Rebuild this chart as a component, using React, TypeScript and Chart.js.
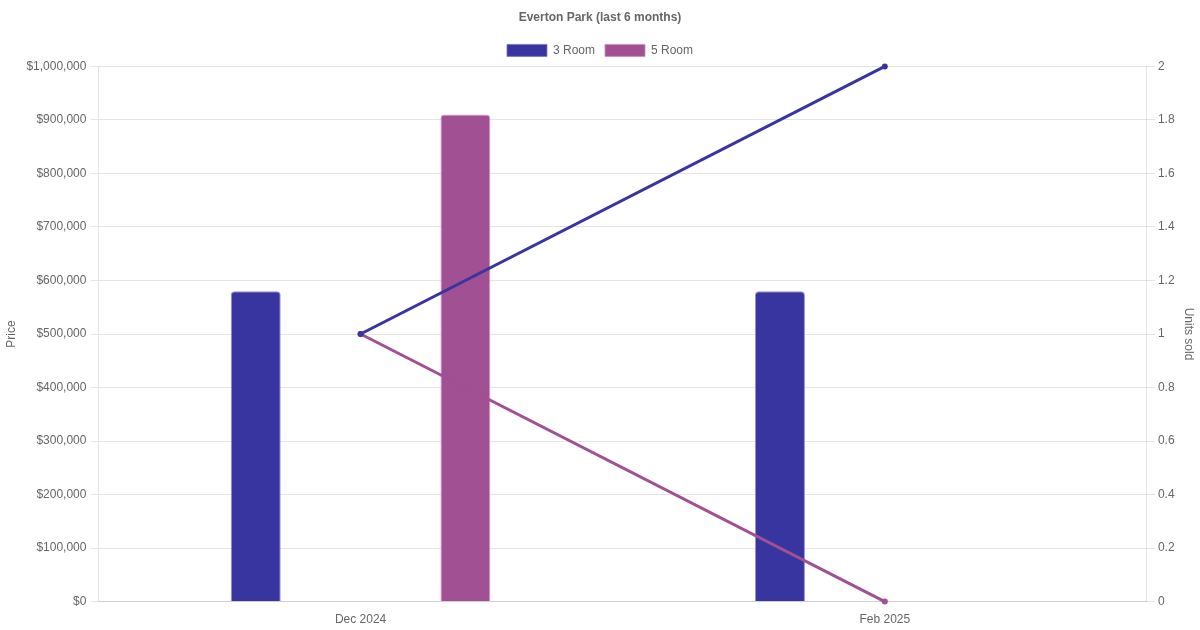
import React, { useEffect, useRef } from "react";
import { Chart, registerables } from "chart.js";

Chart.register(...registerables);

const categories = ["Dec 2024", "Feb 2025"];
const price3Room = [580000, 580000];
const price5Room = [910000, null];
const units3Room = [1, 2];
const units5Room = [1, 0];

const BLUE = "rgb(57, 53, 160)";
const PURPLE = "rgb(160, 80, 147)";

export default function App() {
  const ref = useRef<HTMLCanvasElement | null>(null);
  useEffect(() => {
    document.body.style.margin = "0";
    Chart.defaults.font.family = "'Liberation Sans', Arial, Helvetica, sans-serif";
    Chart.defaults.color = "#666";
    const chart = new Chart(ref.current!, {
      type: "bar",
      data: {
        labels: categories,
        datasets: [
          {
            type: "bar",
            label: "3 Room",
            data: price3Room,
            backgroundColor: BLUE,
            borderColor: "rgba(120, 116, 200, 0.8)",
            borderWidth: 1,
            borderRadius: 4,
            borderSkipped: "bottom",
            maxBarThickness: 50,
            yAxisID: "y",
            order: 2,
          },
          {
            type: "bar",
            label: "5 Room",
            data: price5Room,
            backgroundColor: PURPLE,
            borderColor: "rgba(200, 140, 190, 0.8)",
            borderWidth: 1,
            borderRadius: 4,
            borderSkipped: "bottom",
            maxBarThickness: 50,
            yAxisID: "y",
            order: 2,
          },
          {
            type: "line",
            label: "3 Room units",
            data: units3Room,
            borderColor: BLUE,
            backgroundColor: BLUE,
            borderWidth: 3,
            pointRadius: 3,
            pointBorderWidth: 0,
            fill: false,
            tension: 0,
            clip: false,
            yAxisID: "y1",
            order: 1,
          },
          {
            type: "line",
            label: "5 Room units",
            data: units5Room,
            borderColor: PURPLE,
            backgroundColor: PURPLE,
            borderWidth: 3,
            pointRadius: 3,
            pointBorderWidth: 0,
            fill: false,
            tension: 0,
            clip: false,
            yAxisID: "y1",
            order: 1,
          },
        ],
      } as any,
      options: {
        responsive: false,
        maintainAspectRatio: false,
        animation: false,
        plugins: {
          title: {
            display: true,
            text: "Everton Park (last 6 months)",
            font: { size: 12, weight: "bold" },
            color: "#666",
          },
          legend: {
            labels: {
              filter: (item: any) => item.datasetIndex < 2,
            },
          },
          tooltip: { enabled: false },
        },
        scales: {
          x: {
            grid: { display: false },
            border: { display: true },
          },
          y: {
            type: "linear",
            position: "left",
            min: 0,
            max: 1000000,
            ticks: {
              stepSize: 100000,
              padding: 4,
              callback: (v: any) => "$" + Number(v).toLocaleString("en-US"),
            },
            title: { display: true, text: "Price" },
          },
          y1: {
            type: "linear",
            position: "right",
            min: 0,
            max: 2,
            ticks: {
              stepSize: 0.2,
              callback: (v: any) => String(Math.round(Number(v) * 10) / 10),
            },
            grid: { drawOnChartArea: false },
            title: { display: true, text: "Units sold" },
          },
        },
      } as any,
    });
    return () => chart.destroy();
  }, []);
  return (
    <div style={{ position: "absolute", left: 0, top: 0, width: 1200, height: 630 }}>
      <canvas ref={ref} width={1200} height={630} style={{ width: 1200, height: 630 }} />
    </div>
  );
}
